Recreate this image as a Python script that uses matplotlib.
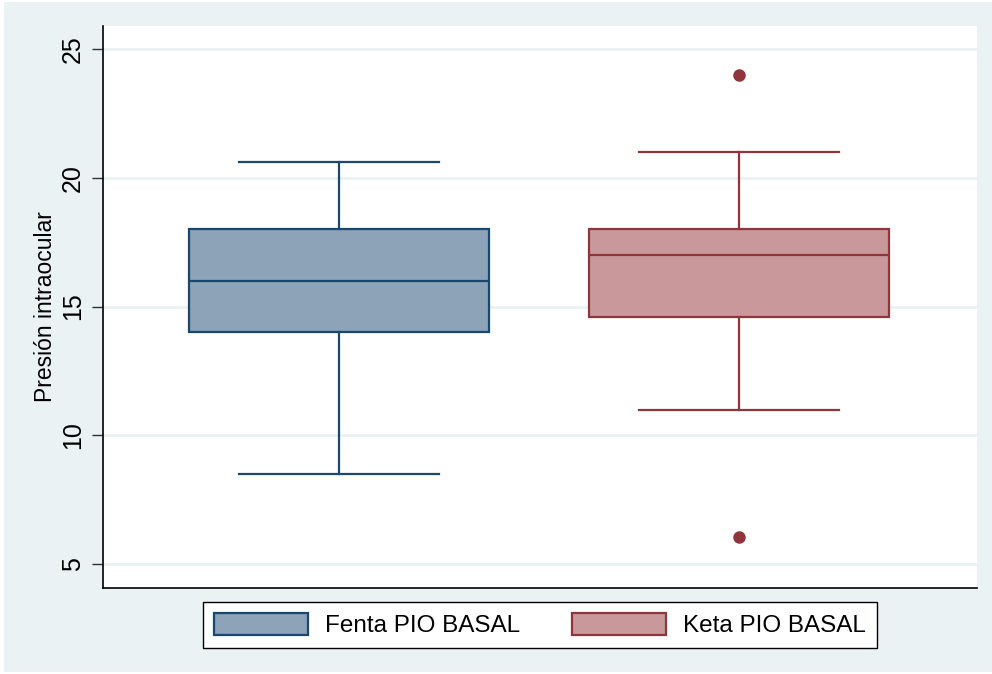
import matplotlib.pyplot as plt
from matplotlib.patches import Rectangle, Patch

plt.rcParams['font.family'] = ['Liberation Sans', 'DejaVu Sans']

groups = ["Fenta PIO BASAL", "Keta PIO BASAL"]
whislo = [8.5, 11.0]
q1 = [14.0, 14.6]
med = [16.0, 17.0]
q3 = [18.0, 18.0]
whishi = [20.6, 21.0]
fliers = [[], [24.0, 6.05]]
yticks = [5, 10, 15, 20, 25]

edge_cols = ["#1a476f", "#90353b"]
fill_cols = ["#8ca3b8", "#c8989b"]
bg = "#eaf2f3"


def main():
	fig = plt.figure(figsize=(9.92, 6.74), dpi=100, facecolor="white")
	fig.patches.append(Rectangle((4 / 992, 2 / 674), 988 / 992, 670 / 674,
		transform=fig.transFigure, facecolor=bg, edgecolor="none", zorder=-10))
	ax = fig.add_axes([103 / 992, (674 - 588) / 674, (977 - 103) / 992, (588 - 26) / 674])
	ax.set_facecolor("white")

	for i in range(len(groups)):
		stats = [dict(whislo=whislo[i], q1=q1[i], med=med[i], q3=q3[i],
			whishi=whishi[i], fliers=fliers[i], label=groups[i])]
		ax.bxp(stats, positions=[i + 1], widths=0.748, patch_artist=True,
			showcaps=True, capwidths=0.5,
			boxprops=dict(facecolor=fill_cols[i], edgecolor=edge_cols[i], linewidth=1.6),
			medianprops=dict(color=edge_cols[i], linewidth=1.6),
			whiskerprops=dict(color=edge_cols[i], linewidth=1.6),
			capprops=dict(color=edge_cols[i], linewidth=1.6),
			flierprops=dict(marker="o", markerfacecolor=edge_cols[i],
				markeredgecolor=edge_cols[i], markersize=8, linestyle="none"),
			zorder=3)

	ax.set_xlim(0.4115, 2.5935)
	ax.set_ylim(4.07, 25.9)
	ax.set_xticks([])
	ax.set_yticks(yticks)
	ax.set_yticklabels([str(t) for t in yticks], rotation=90, va="center", fontsize=18)
	ax.tick_params(axis="y", length=8, width=1, pad=5, color="#333333")
	ax.grid(axis="y", color=bg, linewidth=2, zorder=0)
	ax.set_axisbelow(True)
	for s in ["top", "right"]:
		ax.spines[s].set_visible(False)
	ax.spines["left"].set_linewidth(1.2)
	ax.spines["bottom"].set_linewidth(1.2)
	ax.set_ylabel("Presión intraocular", fontsize=16.5, labelpad=3)

	handles = [Patch(facecolor=fill_cols[i], edgecolor=edge_cols[i], linewidth=1.6, label=groups[i])
		for i in range(len(groups))]
	leg = fig.legend(handles=handles, loc="center", ncol=2,
		bbox_to_anchor=((198 + 882) / 2 / 992, 1 - 625 / 674),
		fontsize=17.5, frameon=True, fancybox=False, edgecolor="black", framealpha=1,
		handlelength=3.9, handleheight=1.0, handletextpad=0.7,
		columnspacing=2.1, borderpad=0.45, borderaxespad=0)
	leg.get_frame().set_linewidth(1.0)

	fig.savefig("out.png", dpi=100, facecolor="white")


if __name__ == "__main__":
	main()
